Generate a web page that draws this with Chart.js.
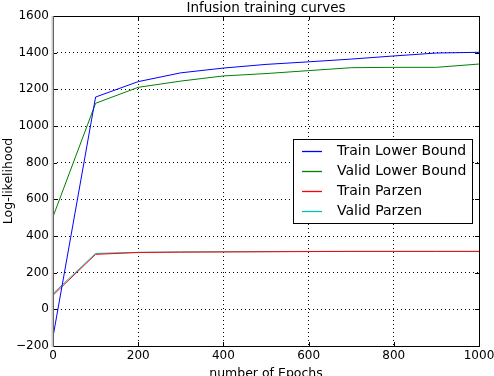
<!DOCTYPE html>
<html>
<head>
<meta charset="utf-8">
<script src="https://cdn.jsdelivr.net/npm/chart.js@4/dist/chart.umd.min.js"></script>
<style>
  html, body { margin: 0; padding: 0; background: #fff; }
  #wrap { width: 494px; height: 376px; }
</style>
</head>
<body>
<div id="wrap"><canvas id="myChart" width="494" height="376"></canvas></div>
<script>
const epochs = [0, 100, 200, 300, 400, 500, 600, 700, 800, 900, 1000];
const trainLowerBound = [-150, 1158, 1242, 1290, 1316, 1336, 1350, 1365, 1382, 1398, 1402];
const validLowerBound = [505, 1124, 1211, 1245, 1273, 1286, 1302, 1318, 1320, 1320, 1338];
const trainParzen = [77, 300, 310, 312, 313, 314, 315, 316, 316, 316, 316];
const validParzen = [86, 305, 311, 313, 314, 315, 316, 316, 316, 316, 316];
const xTicks = [0, 200, 400, 600, 800, 1000];
const yTicks = [-200, 0, 200, 400, 600, 800, 1000, 1200, 1400, 1600];

const seriesNames = ["Train Lower Bound", "Valid Lower Bound", "Train Parzen", "Valid Parzen"];
const seriesColors = ["#0000ff", "#008000", "#ff0000", "#00bfbf"];
const seriesValues = [trainLowerBound, validLowerBound, trainParzen, validParzen];

const FONT = "DejaVu Sans";

function toPoints(vals) {
    return vals.map((v, i) => ({x: epochs[i], y: v}));
}

// box, inward ticks, title and legend like the old matplotlib look
const framePlugin = {
    id: 'frame',
    afterDraw(chart) {
        const ctx = chart.ctx;
        const a = chart.chartArea;
        const xs = chart.scales.x, ys = chart.scales.y;
        ctx.save();
        ctx.strokeStyle = '#000';
        ctx.lineWidth = 1;
        // ticks inside
        ctx.beginPath();
        xTicks.forEach(t => {
            const px = Math.round(xs.getPixelForValue(t)) + 0.5;
            ctx.moveTo(px, a.bottom); ctx.lineTo(px, a.bottom - 4);
            ctx.moveTo(px, a.top); ctx.lineTo(px, a.top + 4);
        });
        yTicks.forEach(t => {
            const py = Math.round(ys.getPixelForValue(t)) + 0.5;
            ctx.moveTo(a.left, py); ctx.lineTo(a.left + 4, py);
            ctx.moveTo(a.right, py); ctx.lineTo(a.right - 4, py);
        });
        ctx.stroke();
        // frame
        ctx.strokeRect(Math.round(a.left) + 0.5, Math.round(a.top) + 0.5,
            Math.round(a.right - a.left), Math.round(a.bottom - a.top));
        ctx.strokeStyle = '#c8c8c8';
        ctx.lineWidth = 2;
        ctx.beginPath();
        ctx.moveTo(Math.round(a.left) - 0.5, a.top);
        ctx.lineTo(Math.round(a.left) - 0.5, a.bottom + 1);
        ctx.stroke();

        // title
        ctx.fillStyle = '#000';
        ctx.font = '13.5px "' + FONT + '"';
        ctx.textAlign = 'center';
        ctx.textBaseline = 'alphabetic';
        ctx.fillText('Infusion training curves', (a.left + a.right) / 2, a.top - 4);

        // legend
        const lx = 293, ly = 139, lw = 179, lh = 84;
        ctx.fillStyle = '#fff';
        ctx.fillRect(lx, ly, lw, lh);
        ctx.strokeStyle = '#000';
        ctx.lineWidth = 1;
        ctx.strokeRect(lx + 0.5, ly + 0.5, lw, lh);
        ctx.font = '14px "' + FONT + '"';
        ctx.textAlign = 'left';
        ctx.textBaseline = 'middle';
        seriesNames.forEach((name, i) => {
            const yy = ly + 11.5 + i * 20;
            ctx.strokeStyle = seriesColors[i];
            ctx.lineWidth = 1.3;
            ctx.beginPath();
            ctx.moveTo(lx + 9, Math.round(yy) + 0.5);
            ctx.lineTo(lx + 29, Math.round(yy) + 0.5);
            ctx.stroke();
            ctx.fillStyle = '#000';
            ctx.fillText(name, lx + 44, yy + 1);
        });
        ctx.restore();
    }
};

new Chart("myChart", {
    type: "line",
    data: {
        datasets: seriesNames.map((name, i) => ({
            label: name,
            data: toPoints(seriesValues[i]),
            borderColor: seriesColors[i],
            backgroundColor: seriesColors[i],
            borderWidth: 1,
            pointRadius: 0,
            tension: 0,
            fill: false
        }))
    },
    options: {
        responsive: false,
        animation: false,
        layout: {padding: {top: 16, right: 15, left: 0, bottom: 0}},
        plugins: {
            legend: {display: false},
            title: {display: false},
            tooltip: {enabled: false}
        },
        scales: {
            x: {
                type: 'linear',
                min: 0,
                max: 1000,
                afterFit: s => { s.height = 30; s.paddingLeft = 0; s.paddingRight = 0; },
                afterBuildTicks: s => { s.ticks = xTicks.map(v => ({value: v})); },
                ticks: {
                    color: '#000',
                    font: {family: FONT, size: 12},
                    padding: 3,
                    maxRotation: 0,
                    callback: v => String(v)
                },
                grid: {
                    color: '#000',
                    drawTicks: false,
                    lineWidth: 1
                },
                border: {display: false, dash: [1, 3]},
                title: {
                    display: true,
                    text: 'number of Epochs',
                    color: '#000',
                    font: {family: FONT, size: 12.5},
                    padding: {top: 0, bottom: -5}
                }
            },
            y: {
                type: 'linear',
                min: -200,
                max: 1600,
                afterFit: s => { s.width = 53; s.paddingTop = 0; s.paddingBottom = 0; },
                afterBuildTicks: s => { s.ticks = yTicks.map(v => ({value: v})); },
                ticks: {
                    color: '#000',
                    font: {family: FONT, size: 12},
                    padding: 4,
                    callback: v => String(v).replace('-', '\u2212')
                },
                grid: {
                    color: '#000',
                    drawTicks: false,
                    lineWidth: 1
                },
                border: {display: false, dash: [1, 3]},
                title: {
                    display: true,
                    text: 'Log-likelihood',
                    color: '#000',
                    font: {family: FONT, size: 12.5},
                    padding: {top: 1, bottom: 0}
                }
            }
        }
    },
    plugins: [framePlugin]
});
</script>
</body>
</html>
